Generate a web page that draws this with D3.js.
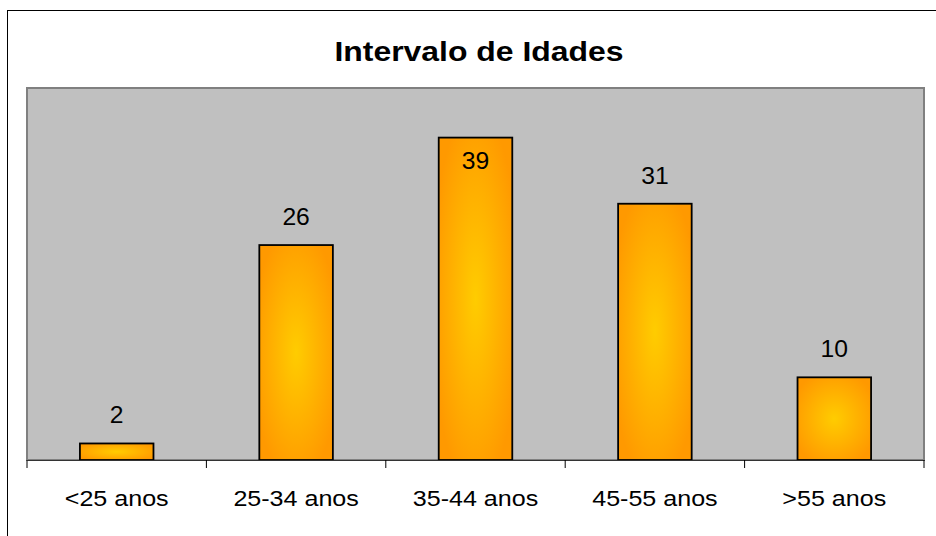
<!DOCTYPE html>
<html>
  <head>
    <meta charset="utf-8">
    <title>Intervalo de Idades</title>
    <script src="https://cdn.jsdelivr.net/npm/d3@7"></script>
    <style>
      body { margin: 0; background: #fff; }
      #chart { display: block; font-family: "Liberation Sans", Arial, sans-serif; }
    </style>
  </head>

  <body>
    <svg id="chart" width="936" height="536"></svg>

    <script>
      // data
      const categories = ["<25 anos", "25-34 anos", "35-44 anos", "45-55 anos", ">55 anos"];
      const values = [2, 26, 39, 31, 10];
      const title = "Intervalo de Idades";

      const width = 936, height = 536;
      const plot = {left: 27, right: 924, top: 88, bottom: 460};
      const stretch = 1.14; // text looks slightly wide in the picture

      const chart = d3.select("#chart");

      // gradient for the bars, lighter in the middle
      const grad = chart.append("defs").append("radialGradient")
          .attr("id", "barFill")
          .attr("cx", "50%").attr("cy", "50%").attr("r", "60%");
      grad.append("stop").attr("offset", "0%").attr("stop-color", "#ffcc00");
      grad.append("stop").attr("offset", "100%").attr("stop-color", "#ff9900");

      // outer frame (runs off the right and bottom)
      chart.append("rect")
          .attr("x", 7.5).attr("y", 10.5)
          .attr("width", 960).attr("height", 560)
          .attr("fill", "none")
          .attr("stroke", "#000")
          .attr("stroke-width", 1);

      const x = d3.scaleBand()
          .domain(categories)
          .range([plot.left, plot.right])
          .paddingInner(0.59)
          .paddingOuter(0.295);

      const y = d3.scaleLinear()
          .domain([0, 45])
          .range([plot.bottom, plot.top]);

      // plot area
      chart.append("rect")
          .attr("x", plot.left).attr("y", plot.top)
          .attr("width", plot.right - plot.left)
          .attr("height", plot.bottom - plot.top)
          .attr("fill", "#c0c0c0")
          .attr("stroke", "#808080")
          .attr("stroke-width", 2);

      // title
      chart.append("text")
          .attr("transform", "translate(479,61) scale(" + stretch + ",1)")
          .attr("text-anchor", "middle")
          .attr("font-size", 28)
          .attr("font-weight", "bold")
          .text(title);

      // bars
      chart.append("g")
        .selectAll("rect")
        .data(values)
        .join("rect")
          .attr("x", (d, i) => x(categories[i]))
          .attr("y", d => y(d))
          .attr("width", x.bandwidth())
          .attr("height", d => y(0) - y(d))
          .attr("fill", "url(#barFill)")
          .attr("stroke", "#000")
          .attr("stroke-width", 1.8);

      // value labels, moved inside when too close to the top
      chart.append("g")
        .selectAll("text")
        .data(values)
        .join("text")
          .attr("transform", (d, i) => {
            const cx = x(categories[i]) + x.bandwidth() / 2;
            let by = y(d) - 20;
            if (by - 22 < plot.top + 12) by = y(d) + 31;
            return "translate(" + cx + "," + by + ") scale(1.05,1)";
          })
          .attr("text-anchor", "middle")
          .attr("font-size", 23.5)
          .attr("fill", "#000")
          .text(d => d);

      // x axis
      const axis = d3.axisBottom(x).tickSize(0).tickFormat("");
      const axisGroup = chart.append("g")
          .attr("transform", "translate(0," + plot.bottom + ")")
          .call(axis);
      axisGroup.select(".domain").attr("stroke", "#333").attr("stroke-width", 1.2);

      // ticks sit between categories
      const step = (plot.right - plot.left) / categories.length;
      axisGroup.selectAll(".sep")
        .data(d3.range(categories.length + 1))
        .join("line")
          .attr("x1", i => plot.left + i * step)
          .attr("x2", i => plot.left + i * step)
          .attr("y1", 0).attr("y2", 8)
          .attr("stroke", "#000");

      chart.append("g")
        .selectAll("text")
        .data(categories)
        .join("text")
          .attr("transform", d => "translate(" + (x(d) + x.bandwidth() / 2) + ",506) scale(" + stretch + ",1)")
          .attr("text-anchor", "middle")
          .attr("font-size", 22)
          .attr("fill", "#000")
          .text(d => d);
    </script>
  </body>
</html>
